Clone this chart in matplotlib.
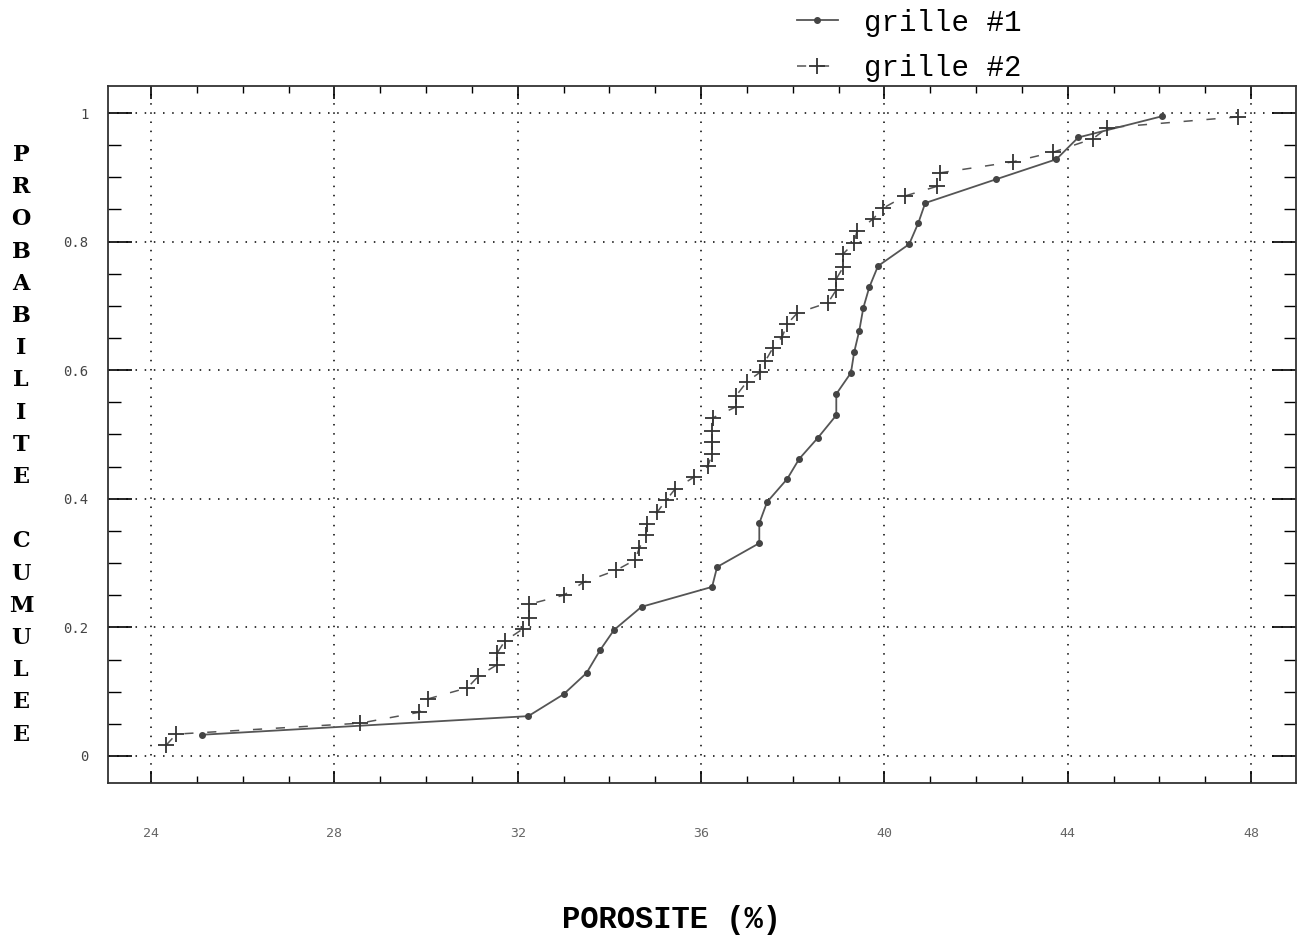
import matplotlib
matplotlib.use("Agg")
import matplotlib.pyplot as plt
from matplotlib.ticker import MultipleLocator, FixedLocator

# ---- data ----
g1_x = [25.1, 32.23, 33.0, 33.5, 33.8, 34.1, 34.7, 36.24, 36.35, 37.27, 37.27, 37.44,
        37.88, 38.14, 38.55, 38.95, 38.95, 39.27, 39.34, 39.45, 39.54, 39.67, 39.86,
        40.54, 40.74, 40.89, 42.44, 43.75, 44.23, 46.06]
g1_y = [0.033, 0.062, 0.096, 0.129, 0.165, 0.196, 0.232, 0.263, 0.294, 0.331, 0.362,
        0.395, 0.431, 0.462, 0.495, 0.530, 0.563, 0.596, 0.628, 0.661, 0.697, 0.729,
        0.762, 0.796, 0.829, 0.860, 0.897, 0.928, 0.962, 0.995]

g2_x = [24.33, 24.55, 28.56, 29.85, 30.05, 30.9, 31.14, 31.55, 31.55, 31.72, 32.12,
        32.25, 32.25, 33.0, 33.43, 34.15, 34.56, 34.65, 34.8, 34.82, 35.04, 35.24,
        35.43, 35.85, 36.15, 36.24, 36.24, 36.24, 36.26, 36.76, 36.76, 37.0, 37.29,
        37.4, 37.57, 37.77, 37.88, 38.1, 38.77, 38.95, 38.95, 39.1, 39.1, 39.34, 39.4,
        39.75, 39.97, 40.45, 41.15, 41.22, 42.8, 43.68, 44.55, 44.86, 47.72]
g2_y = [0.017, 0.034, 0.051, 0.068, 0.089, 0.106, 0.124, 0.142, 0.160, 0.179, 0.198,
        0.215, 0.236, 0.250, 0.270, 0.289, 0.305, 0.323, 0.344, 0.361, 0.379, 0.398,
        0.415, 0.434, 0.451, 0.470, 0.488, 0.505, 0.526, 0.543, 0.560, 0.582, 0.597,
        0.614, 0.635, 0.652, 0.672, 0.689, 0.705, 0.725, 0.742, 0.760, 0.781, 0.798,
        0.816, 0.835, 0.852, 0.871, 0.886, 0.907, 0.924, 0.939, 0.960, 0.977, 0.994]

series_labels = ["grille #1", "grille #2"]
x_ticks = [24, 28, 32, 36, 40, 44, 48]
y_ticks = [0, 0.2, 0.4, 0.6, 0.8, 1]
y_tick_labels = ["0", "0.2", "0.4", "0.6", "0.8", "1"]
x_label = "POROSITE (%)"
y_label = "PROBABILITE CUMULEE"

W, H = 1297, 935
fig = plt.figure(figsize=(W / 100, H / 100), dpi=100)
ax = fig.add_axes([108 / W, 1 - 783 / H, (1296 - 108) / W, (783 - 86) / H])

ax.plot(g1_x, g1_y, color="#555555", lw=1.3, marker="o", ms=4,
        mfc="#444444", mec="#444444", label=series_labels[0])
ax.plot(g2_x, g2_y, color="#555555", lw=1.1, ls=(0, (6, 9)), marker="+", ms=11,
        mew=1.3, mec="#333333", label=series_labels[1])

ax.set_xlim(23.06, 48.98)
ax.set_ylim(-0.042, 1.042)

ax.xaxis.set_major_locator(FixedLocator(x_ticks))
ax.xaxis.set_minor_locator(MultipleLocator(1))
ax.yaxis.set_major_locator(FixedLocator(y_ticks))
ax.yaxis.set_minor_locator(MultipleLocator(0.05))
ax.set_xticklabels([str(v) for v in x_ticks])
ax.set_yticklabels(y_tick_labels)

ax.grid(True, which="major", color="black", ls=(0, (1, 5)), lw=1.1)

ax.tick_params(axis="x", which="major", direction="in", length=9, width=1.2,
               top=True, bottom=True, pad=32, labelsize=9.5, labelcolor="#666666")
ax.tick_params(axis="x", which="minor", direction="in", length=5, width=1,
               top=True, bottom=True)
ax.tick_params(axis="y", which="major", direction="in", length=17, width=1.2,
               left=True, right=True, pad=14, labelsize=10, labelcolor="#444444")
ax.tick_params(axis="y", which="minor", direction="in", length=9, width=1,
               left=True, right=True)
for lab in ax.get_xticklabels() + ax.get_yticklabels():
    lab.set_family("DejaVu Sans Mono")
for sp in ax.spines.values():
    sp.set_linewidth(1.3)
    sp.set_color("#333333")

# vertical stacked y label
for i, ch in enumerate(y_label):
    fig.text(21 / W, 1 - (155 + i * 32.2) / H, ch, ha="center", va="center",
             fontsize=16, fontweight="bold", family="DejaVu Serif")

fig.text(672 / W, 1 - 920 / H, x_label, ha="center", va="center",
         fontsize=22, fontweight="bold", family="Liberation Mono")

fig.legend(loc="upper left", bbox_to_anchor=(785 / W, 1 + 3 / H), frameon=False,
           prop={"family": "Liberation Mono", "size": 21}, handlelength=1.4,
           handletextpad=0.9, labelspacing=0.6, borderaxespad=0)

fig.savefig("out.png", dpi=100)
